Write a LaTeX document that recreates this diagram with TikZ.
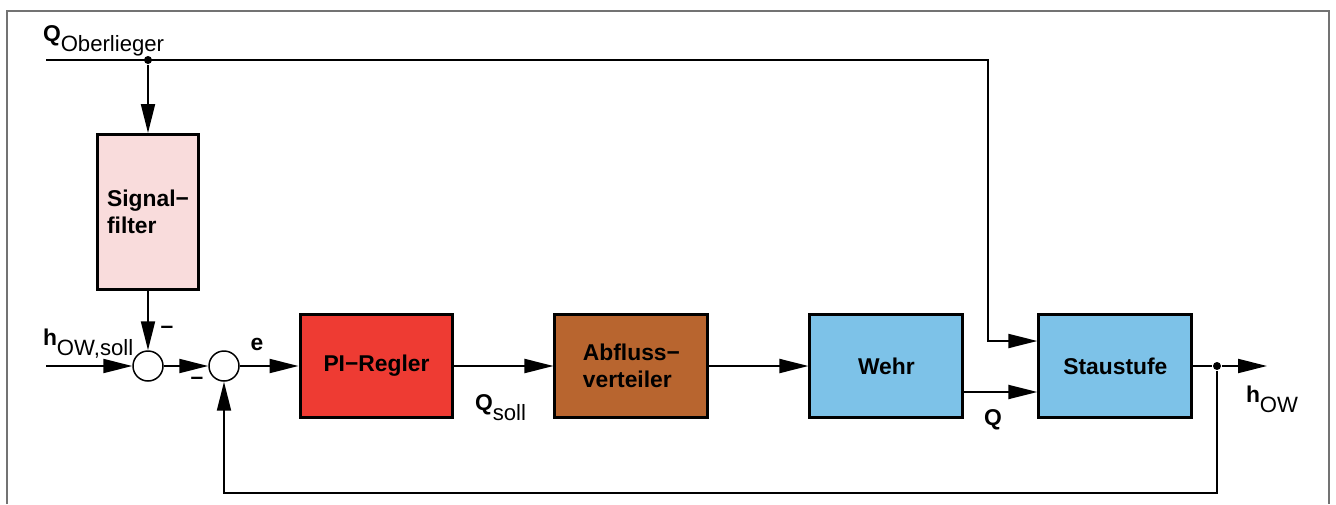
\documentclass[tikz,border=0pt]{standalone}
\usepackage{fontspec}
\setmainfont{Liberation Sans}
\usetikzlibrary{arrows.meta}
\usetikzlibrary{calc}
\usetikzlibrary{positioning}
\tikzset{
  every picture/.style={font={\bfseries\fontsize{13}{15.5}\selectfont},
    >={Triangle[length=5.8mm, width=2.8mm]}}}

\definecolor{filterpink}{HTML}{F9DCDC}
\definecolor{reglerred}{HTML}{EE3B33}
\definecolor{verteilerbrown}{HTML}{B8652F}
\definecolor{wehrblue}{HTML}{7DC2E8}

% lowered index in upright weight
\newcommand{\subtext}[1]{\raisebox{-5.8pt}{\mdseries\fontsize{12.6}{14}\selectfont #1}}

\begin{document}
\begin{tikzpicture}[x=0.02cm, y=-0.02cm, node distance=1.98cm, line width=0.04cm,
    block/.style={draw, line width=0.06cm, minimum width=3.06cm, minimum height=2.06cm, align=left},
    sum/.style={draw, circle, line width=0.03cm, minimum size=0.6cm, inner sep=0pt, fill=white},
    dot/.style={circle, fill, inner sep=0pt, minimum size=0.16cm},
    lbl/.style={inner sep=0pt}]

    \useasboundingbox (0,0) rectangle (1336,504);
    \draw[black!55] (7,504) -- (7,11) -- (1329,11) -- (1329,504);

    \begin{scope}
      \node[block, fill=reglerred] (PI) at (376.5,366) {PI−Regler};
      \node[block, fill=verteilerbrown] (AV) [right=of PI] {Abfluss−\\verteiler};
      \node[block, fill=wehrblue] (WE) [right=of AV] {Wehr};
      \node[block, fill=wehrblue] (ST) [right=1.46cm of WE] {Staustufe};
      \node[block, fill=filterpink, minimum width=2.04cm, minimum height=3.1cm] (SF) at (148,212) {Signal−\\filter};
    \end{scope}

    \begin{scope}
      \node[sum] (SA) at (148,366) {};
      \node[sum] (SB) at (224,366) {};
      \node[dot] (QD) at (148,60) {};
      \node[dot] (HD) at (1217,366) {};
      \coordinate (QIN) at (46,60);
      \coordinate (QK) at (988,60);
      \coordinate (HIN) at (46,366);
      \coordinate (HOUT) at (1267,366);
      \coordinate (FB) at (1217,493);
    \end{scope}

    \node[lbl, anchor=base west] (LQ) at (42,41) {Q\subtext{Oberlieger}};
    \node[lbl, anchor=base west] (LH) at (42,345) {h\subtext{OW,soll}};
    \node[lbl, anchor=base] (LE) at (257,350) {e};
    \node[lbl, anchor=base west] (LQS) at (474,410) {Q\subtext{soll}};
    \node[lbl, anchor=base] (LQW) at (993,425) {Q};
    \node[lbl, anchor=base west] (LHO) at (1245,402) {h\subtext{OW}};
    \node[lbl] (MA) at (167,330) {\textendash};
    \node[lbl] (MB) at (197,381) {\textendash};

    \draw[->] (QIN) -- (QK) |- ([yshift=0.5cm]ST.west);
    \draw[->] (QD) -- (SF);
    \draw[->] (SF) -- (SA);
    \draw[->] (HIN) -- (SA);
    \draw[->] (SA) -- (SB);
    \draw[->] (SB) -- (PI);
    \draw[->] (PI) -- (AV);
    \draw[->] (AV) -- (WE);
    \draw[->] ([yshift=-0.52cm]WE.east) -- ([yshift=-0.52cm]ST.west);
    \draw (ST) -- (HD);
    \draw[->] (HD) -- (HOUT);
    \draw[->] (HD) -- (FB) -| (SB);
  \end{tikzpicture}
\end{document}
